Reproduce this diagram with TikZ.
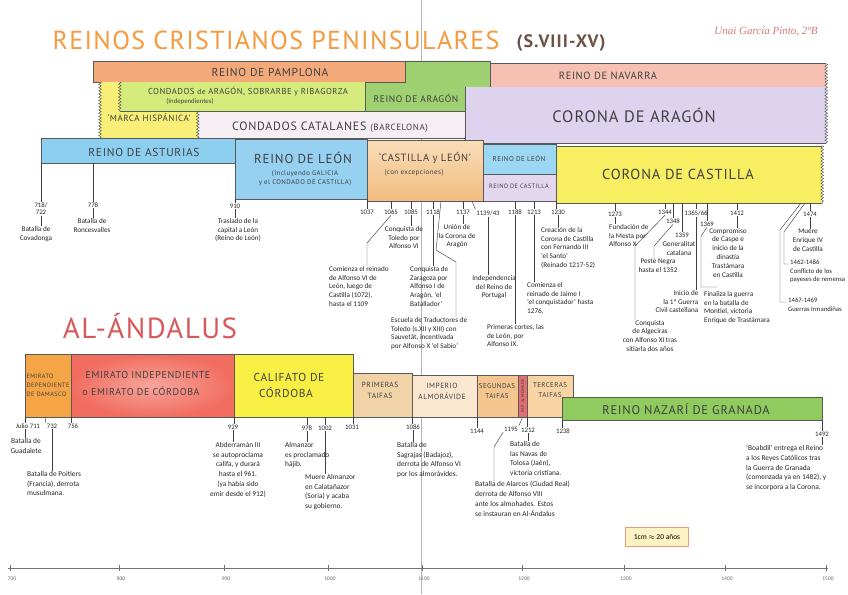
\documentclass[tikz,border=0pt]{standalone}
\usepackage{fontspec}
\setmainfont{Carlito}
\newfontfamily\boxfont[LetterSpace=6]{PT Sans}
\newfontfamily\titlefont[LetterSpace=5]{PT Sans}
\newfontfamily\sigfont{Liberation Serif}
\usetikzlibrary{decorations.pathmorphing}
\definecolor{cTitle}{HTML}{F59A3E}
\definecolor{cSub}{HTML}{6E5246}
\definecolor{cSig}{HTML}{D9787A}
\definecolor{cAnd}{HTML}{D65A5C}
\definecolor{cPamp}{HTML}{F3A97A}
\definecolor{cNav}{HTML}{F6C0B2}
\definecolor{cGreen}{HTML}{9FD071}
\definecolor{cCAr}{HTML}{DDD3EE}
\definecolor{cLime}{HTML}{D5EC7C}
\definecolor{cYel}{HTML}{F9EF78}
\definecolor{cCat}{HTML}{F5EEF3}
\definecolor{cAst}{HTML}{8DCFF0}
\definecolor{cLeon}{HTML}{97D1F1}
\definecolor{cCyL}{HTML}{F6CB97}
\definecolor{cCyLTop}{HTML}{F8DDB8}
\definecolor{cCyLBot}{HTML}{F4BC80}
\definecolor{cLeonB}{HTML}{9CD7F3}
\definecolor{cCastB}{HTML}{E3D7EF}
\definecolor{cCC}{HTML}{F8EE62}
\definecolor{cEDD}{HTML}{F5A545}
\definecolor{cEInd}{HTML}{F16D60}
\definecolor{cEIndL}{HTML}{F8A59A}
\definecolor{cCalif}{HTML}{F8EF45}
\definecolor{cPT}{HTML}{F1D3A8}
\definecolor{cAlmor}{HTML}{FBE6CF}
\definecolor{cST}{HTML}{F4C58E}
\definecolor{cAlmoh}{HTML}{E26E72}
\definecolor{cTT}{HTML}{F8D4A4}
\definecolor{cNaz}{HTML}{8FCB5E}
\definecolor{cScaleF}{HTML}{FCF3C4}
\definecolor{cScaleD}{HTML}{E79B79}
\newcommand\bx[7]{\node[bx, fill=#6, minimum width={(#4-#2)*1pt}, minimum height={(#5-#3)*1pt}, #7] (#1) at ({(#2+#4)/2},{(#3+#5)/2}) {};}
\begin{document}
\begin{tikzpicture}[x=1pt,y=-1pt,
  bx/.style={draw=black!65, line width=0.5pt, inner sep=0pt},
  edge/.style={draw=black!65, line width=0.5pt},
  zz/.style={draw=black!65, line width=0.5pt, decorate, decoration={zigzag, segment length=3.2pt, amplitude=1.3pt}},
  lb/.style={font=\boxfont\fontsize{#1}{#1}\selectfont, text=black!75, inner sep=0pt, align=center},
  yr/.style={font=\fontsize{6.8}{7.2}\selectfont, inner sep=0.8pt, text=black!85, align=center},
  nt/.style={font=\fontsize{7.2}{8.8}\selectfont, inner sep=0pt, text=black!85, align=center, anchor=north},
  ntl/.style={nt, align=left, anchor=north west},
  nb/.style={font=\fontsize{7.4}{9.8}\selectfont, inner sep=0pt, text=black!85, align=center, anchor=north},
  nbl/.style={nb, align=left, anchor=north west},
  ln/.style={draw=black!75, line width=0.45pt},
  axis/.style={draw=black!55, line width=0.6pt},
  axl/.style={font=\fontsize{5.5}{6}\selectfont, text=black!60, inner sep=0pt}]
\useasboundingbox (0,0) rectangle (848,594);
\fill[white] (0,0) rectangle (848,594);
% page fold
\draw[black!30, line width=1pt] (421,0) -- (421,594);

% titles
\node[font=\titlefont\fontsize{26}{26}\selectfont, text=cTitle, inner sep=0pt] (title) at (276,40) {REINOS CRISTIANOS PENINSULARES};
\node[font=\boxfont\bfseries\fontsize{18}{18}\selectfont, text=cSub, inner sep=0pt] (period) at (561,43) {(S.VIII-XV)};
\node[font=\sigfont\itshape\fontsize{11}{11}\selectfont, text=cSig, inner sep=0pt] (author) at (766,32) {Unai García Pinto, 2ºB};

% ---------- Christian kingdoms ----------
\bx{pamp}{93}{61}{405}{82}{cPamp}{}
\filldraw[fill=cGreen, edge] (405,61) -- (490,61) -- (490,87) -- (465,87) -- (465,112) -- (365,112) -- (365,82) -- (405,82) -- cycle;
\bx{nav}{490}{64}{826}{87}{cNav}{draw=none}
\draw[edge] (nav.north east) -- (nav.north west) -- (nav.south west) -- (nav.south east);
\draw[zz] (nav.north east) -- (nav.south east);
\bx{car}{465}{87}{826}{143}{cCAr}{draw=none}
\draw[edge] (car.north west) -- (car.south west) -- (car.south east);
\draw[zz] (car.north east) -- (car.south east);
\fill[cYel] (100,82) -- (120,82) -- (120,111) -- (198,111) -- (198,138) -- (100,138) -- cycle;
\draw[zz] (100,82) -- (100,138);
\bx{condar}{120}{82}{365}{111}{cLime}{draw=none}
\draw[edge] (condar.south west) -- (condar.south east);
\draw[zz] (condar.north west) -- (condar.south west);
\bx{cat}{198}{111}{465}{138}{cCat}{draw=none}
\draw[edge] (cat.north west) -- (cat.north east);
\draw[edge] (cat.south west) -- (cat.south east);
\draw[zz] (cat.north west) -- (cat.south west);
\bx{ast}{41}{138}{235}{163}{cAst}{}
\bx{leon}{235}{139}{367}{199}{cLeon}{}
\bx{cyl}{367}{140}{483}{201}{cCyL}{top color=cCyLTop, bottom color=cCyLBot}
\bx{leonb}{483}{144}{556}{174}{cLeonB}{}
\bx{castb}{483}{174}{556}{201}{cCastB}{}
\bx{ccast}{556}{146}{822}{203}{cCC}{draw=none}
\draw[edge] (ccast.north east) -- (ccast.north west) -- (ccast.south west) -- (ccast.south east);
\draw[zz] (ccast.north east) -- (ccast.south east);

\node[lb=11.5] (tPamp) at (270,72) {REINO DE PAMPLONA};
\node[lb=10.5] (tNav) at (608,76) {REINO DE NAVARRA};
\node[lb=16.5] (tCAr) at (634,115) {CORONA DE ARAGÓN};
\node[lb=8.6] (tCondar) at (248,92) {CONDADOS {\fontsize{7.5}{7.5}\selectfont de} ARAGÓN, SOBRARBE {\fontsize{7.5}{7.5}\selectfont y} RIBAGORZA};
\node[font=\fontsize{6.8}{6.8}\selectfont, inner sep=0pt, text=black!75] (tIndep) at (190,102) {(Independientes)};
\node[lb=9.5] (tRAr) at (416,98) {REINO DE ARAGÓN};
\node[lb=9] (tMarca) at (149,118) {‘MARCA HISPÁNICA’};
\node[lb=12] (tCat) at (330,127) {CONDADOS CATALANES {\fontsize{9}{9}\selectfont (BARCELONA)}};
\node[lb=11.5] (tAst) at (144,152) {REINO DE ASTURIAS};
\node[lb=13] (tLeon) at (303,158) {REINO DE LEÓN};
\node[lb=6.8] (tLeonSub) at (305,178) {(Incluyendo GALICIA\\[2.5pt] y el CONDADO DE CASTILLA)};
\node[lb=10.5] (tCyL) at (425,158) {‘CASTILLA y LEÓN’};
\node[lb=7] (tCyLSub) at (414,173) {(con excepciones)};
\node[lb=7] (tLeonB) at (519,158) {REINO DE LEÓN};
\node[lb=6.3] (tCastB) at (519,186) {REINO DE CASTILLA};
\node[lb=14.5] (tCC) at (678,174) {CORONA DE CASTILLA};

% top timeline years
\node[yr] (y718) at (41,209) {718/\\722};
\node[yr] (y778) at (93,205) {778};
\node[yr] (y910) at (235,206) {910};
\node[yr] (y1037) at (367,212) {1037};
\node[yr] (y1065) at (391,212) {1065};
\node[yr] (y1085) at (411,212) {1085};
\node[yr] (y1118) at (433,212) {1118};
\node[yr] (y1137) at (463,212) {1137};
\node[yr] (y1139) at (488,213) {1139/43};
\node[yr] (y1188) at (515,212) {1188};
\node[yr] (y1213) at (534,212) {1213};
\node[yr] (y1230) at (558,212) {1230};
\node[yr] (y1273) at (615,214) {1273};
\node[yr] (y1344) at (665,212) {1344};
\node[yr] (y1348) at (673,221) {1348};
\node[yr] (y1359) at (682,235) {1359};
\node[yr] (y1365) at (696,213) {1365/66};
\node[yr] (y1369) at (707,224) {1369};
\node[yr] (y1412) at (737,213) {1412};
\node[yr] (y1474) at (810,214) {1474};

% top notes
\node[nt] (n718) at (36,226) {Batalla de\\Covadonga};
\node[nt] (n778) at (92,218) {Batalla de\\Roncesvalles};
\node[nt] (n910) at (238,218) {Traslado de la\\capital a León\\(Reino de León)};
\node[ntl] (n1065) at (329,266) {Comienza el reinado\\de Alfonso VI de\\León, luego de\\Castilla (1072),\\hasta el 1109};
\node[nt] (n1085) at (404,226) {Conquista de\\Toledo por\\Alfonso VI};
\node[ntl] (n1118) at (410,266) {Conquista de\\Zaragoza por\\Alfonso I de\\Aragón, ‘el\\Batallador’};
\node[ntl] (nEsc) at (391,317) {Escuela de Traductores de\\Toledo (s.XII y XIII) con\\Sauvetât, incentivada\\por Alfonso X ‘el Sabio’};
\node[nt] (n1137) at (457,224) {Unión de\\la Corona de\\Aragón};
\node[nt] (n1139) at (494,275) {Independencia\\del Reino de\\Portugal};
\node[ntl] (n1188) at (487,324) {Primeras cortes, las\\de León, por\\Alfonso IX.};
\node[ntl] (n1213) at (527,282) {Comienza el\\reinado de Jaime I\\‘el conquistador’ hasta\\1276.};
\node[ntl] (n1230) at (541,227) {Creación de la\\Corona de Castilla\\con Fernando III\\‘el Santo’\\(Reinado 1217-52)};
\node[ntl] (n1273) at (609,224) {Fundación de\\la Mesta por\\Alfonso X};
\node[nt] (n1344) at (650,320) {Conquista\\de Algeciras\\con Alfonso XI tras\\sitiarla dos años};
\node[nt] (n1348) at (658,259) {Peste Negra\\hasta el 1352};
\node[nt] (n1359) at (679,241) {Generalitat\\catalana};
\node[nt, align=right] (n1365) at (677,290) {Inicio de\\la 1ª Guerra\\Civil castellana};
\node[ntl] (n1369) at (704,291) {Finaliza la guerra\\en la batalla de\\Montiel, victoria\\Enrique de Trastámara};
\node[nt] (n1412) at (728,228) {Compromiso\\de Caspe e\\inicio de la\\dinastía\\Trastámara\\en Castilla};
\node[nt] (n1474) at (808,229) {Muere\\Enrique IV\\de Castilla};
\node[ntl, font=\fontsize{6.7}{8.5}\selectfont] (n1462) at (790,260) {1462-1486\\Conflicto de los\\payeses de remensa};
\node[ntl, font=\fontsize{6.7}{8.5}\selectfont] (n1467) at (788,298) {1467-1469\\Guerras Irmandiñas};

% helper coordinates
\coordinate (k1065) at (367,243);
\coordinate (kE0) at (441,201);
\coordinate (kE1) at (436,250);
\coordinate (kE2) at (456,262);
\coordinate (k1139) at (472,201);
\coordinate (k1344) at (635,246);
\coordinate (k1348) at (654,246);
\coordinate (k1369a) at (701,236);
\coordinate (k1369b) at (701,287);
\coordinate (k1369c) at (717,287);
\coordinate (kR0) at (805,203);
\coordinate (kR1) at (784,232);
\coordinate (kR2) at (784,264);
\coordinate (kR3) at (789,264);
\coordinate (kS0) at (801,203);
\coordinate (kS1) at (780,230);
\coordinate (kS2) at (780,302);
\coordinate (kS3) at (786,302);

% top connectors
\draw[ln] (ast.south west) -- (ast.south west |- y718.north);
\draw[ln] (y718.south) -- (y718.south |- n718.north);
\draw[ln] (y778.north |- ast.south) -- (y778.north);
\draw[ln] (y778.south) -- (y778.south |- n778.north);
\draw[ln] (leon.south west) -- (leon.south west |- y910.north);
\draw[ln] (y910.south) -- (y910.south |- n910.north);
\draw[ln] (leon.south east) -- (leon.south east |- y1037.north);
\draw[ln] (y1065.north |- cyl.south) -- (y1065.north);
\draw[ln] (y1065.south) -- (k1065) -- (k1065 |- n1065.north);
\draw[ln] (y1085.north |- cyl.south) -- (y1085.north);
\draw[ln] (y1085.south) -- (y1085.south |- n1085.north);
\draw[ln] (y1118.north |- cyl.south) -- (y1118.north);
\draw[ln] (y1118.south) -- (y1118.south |- n1118.north);
\draw[ln] (kE0) -- (kE1) -- (kE2) -- (kE2 |- nEsc.north);
\draw[ln] (y1137.north |- cyl.south) -- (y1137.north);
\draw[ln] (y1137.south) -- (y1137.south |- n1137.north);
\draw[ln] (k1139) -- (y1139.north west);
\draw[ln] (y1139.south) -- (y1139.south |- n1139.north);
\draw[ln] (y1188.north |- castb.south) -- (y1188.north);
\draw[ln] (y1188.south) -- (y1188.south |- n1188.north);
\draw[ln] (y1213.north |- castb.south) -- (y1213.north);
\draw[ln] (y1213.south) -- (y1213.south |- n1213.north);
\draw[ln] (castb.south east) -- (castb.south east |- y1230.north);
\draw[ln] (y1230.south) -- (y1230.south |- n1230.north);
\draw[ln] (y1273.north |- ccast.south) -- (y1273.north);
\draw[ln] (y1273.south) -- (y1273.south |- n1273.north);
\draw[ln] (y1344.north |- ccast.south) -- (y1344.north);
\draw[ln] (y1344.south) -- (k1344) -- (k1344 |- n1344.north);
\draw[ln] (y1348.north |- ccast.south) -- (y1348.north);
\draw[ln] (y1348.south) -- (k1348) -- (k1348 |- n1348.north);
\draw[ln] (y1359.north |- ccast.south) -- (y1359.north);
\draw[ln] (y1365.north |- ccast.south) -- (y1365.north);
\draw[ln] (y1365.south) -- (y1365.south |- n1365.north);
\draw[ln] (y1369.north |- ccast.south) -- (y1369.north);
\draw[ln] (y1369.south) -- (k1369a) -- (k1369b) -- (k1369c);
\draw[ln] (y1412.north |- ccast.south) -- (y1412.north);
\draw[ln] (y1412.south) -- (y1412.south |- n1412.north);
\draw[ln] (y1474.north |- ccast.south) -- (y1474.north);
\draw[ln] (y1474.south) -- (y1474.south |- n1474.north);
\draw[ln] (kR0) -- (kR1) -- (kR2) -- (kR3);
\draw[ln] (kS0) -- (kS1) -- (kS2) -- (kS3);

% ---------- Al-Andalus ----------
\node[font=\titlefont\fontsize{29}{29}\selectfont, text=cAnd, inner sep=0pt] (andalus) at (150,326) {AL-ÁNDALUS};
\bx{edd}{25}{354}{71}{417}{cEDD}{}
\bx{eind}{71}{354}{234}{417}{cEInd}{inner color=cEIndL, outer color=cEInd}
\bx{calif}{234}{354}{353}{417}{cCalif}{}
\bx{ptaif}{353}{373}{412}{417}{cPT}{}
\bx{almor}{412}{375}{477}{417}{cAlmor}{}
\bx{staif}{477}{375}{518}{417}{cST}{}
\bx{almoh}{518}{375}{527}{417}{cAlmoh}{}
\bx{ttaif}{527}{375}{573}{417}{cTT}{}
\bx{naz}{562}{397}{822}{420}{cNaz}{}

\node[lb=6.3, align=left] (tEDD) at (48,385) {EMIRATO\\[2.5pt]DEPENDIENTE\\[2.5pt]DE DAMASCO};
\node[lb=10] (tEInd1) at (148,375) {EMIRATO INDEPENDIENTE};
\node[lb=10] (tEInd2) at (141,391) {o EMIRATO DE CÓRDOBA};
\node[lb=11.5] (tCal1) at (289,377) {CALIFATO DE};
\node[lb=11.5] (tCal2) at (286,393) {CÓRDOBA};
\node[lb=7.5] (tPT) at (380,390) {PRIMERAS\\[3.5pt]TAIFAS};
\node[lb=7.5] (tAlmor) at (442,391) {IMPERIO\\[3.5pt]ALMORÁVIDE};
\node[lb=7] (tST) at (497,391) {SEGUNDAS\\[3.5pt]TAIFAS};
\node[lb=4.3, rotate=90] (tAlmoh) at (522.5,396) {IMP. ALMOHADE};
\node[lb=7] (tTT) at (550,390) {TERCERAS\\[3.5pt]TAIFAS};
\node[lb=12.5] (tNaz) at (686,409) {REINO NAZARÍ DE GRANADA};

\node[yr] (y711) at (28,426) {Julio 711};
\node[yr] (y732) at (52,426) {732};
\node[yr] (y756) at (73,426) {756};
\node[yr] (y929) at (233,427) {929};
\node[yr] (y978) at (307,428) {978};
\node[yr] (y1002) at (325,428) {1002};
\node[yr] (y1031) at (352,427) {1031};
\node[yr] (y1086) at (413,427) {1086};
\node[yr] (y1144) at (477,431) {1144};
\node[yr] (y1195) at (511,429) {1195};
\node[yr] (y1212) at (528,430) {1212};
\node[yr] (y1238) at (563,431) {1238};
\node[yr] (y1492) at (822,434) {1492};

\node[nb] (n711) at (26,438) {Batalla de\\Guadalete};
\node[nbl] (n732) at (27,471) {Batalla de Poitiers\\(Francia), derrota\\musulmana.};
\node[nb] (n929) at (238,442) {Abderramán III\\se autoproclama\\califa, y durará\\hasta el 961.\\(ya había sido\\emir desde el 912)};
\node[nbl] (n978) at (285,442) {Almanzor\\es proclamado\\hájib.};
\node[nbl] (n1002) at (305,474) {Muere Almanzor\\en Calatañazor\\(Soria) y acaba\\su gobierno.};
\node[nbl] (n1086) at (397,442) {Batalla de\\Sagrajas (Badajoz),\\derrota de Alfonso VI\\por los almorávides.};
\node[nbl] (n1195) at (475,481) {Batalla de Alarcos (Ciudad Real)\\derrota de Alfonso VIII\\ante los almohades. Estos\\se instauran en Al-Ándalus};
\node[nbl] (n1212) at (510,441) {Batalla de\\las Navas de\\Tolosa (Jaén),\\victoria cristiana.};
\node[nbl] (n1492) at (746,445) {‘Boabdil’ entrega el Reino\\a los Reyes Católicos tras\\la Guerra de Granada\\(comenzada ya en 1482), y\\se incorpora a la Corona.};

\coordinate (k732) at (45,417);
\coordinate (k1195) at (494,447);
\draw[ln] (edd.south west) -- (edd.south west |- y711.north);
\draw[ln] (y711.south -| edd.south west) -- (n711.north -| edd.south west);
\draw[ln] (k732) -- (y732.north west);
\draw[ln] (y732.south) -- (y732.south |- n732.north);
\draw[ln] (eind.south west) -- (eind.south west |- y756.north);
\draw[ln] (calif.south west) -- (calif.south west |- y929.north);
\draw[ln] (y929.south) -- (y929.south |- n929.north);
\draw[ln] (y978.north |- calif.south) -- (y978.north);
\draw[ln] (y978.south) -- (y978.south |- n978.north);
\draw[ln] (y1002.north |- calif.south) -- (y1002.north);
\draw[ln] (y1002.south) -- (y1002.south |- n1002.north);
\draw[ln] (calif.south east) -- (calif.south east |- y1031.north);
\draw[ln] (ptaif.south east) -- (ptaif.south east |- y1086.north);
\draw[ln] (y1086.south) -- (y1086.south |- n1086.north);
\draw[ln] (almor.south east) -- (almor.south east |- y1144.north);
\draw[ln] (almoh.south) -- (y1195.north east);
\draw[ln] (y1195.south west) -- (k1195) -- (k1195 |- n1195.north);
\draw[ln] (almoh.south east) -- (almoh.south east |- y1212.north);
\draw[ln] (y1212.south) -- (y1212.south |- n1212.north);
\draw[ln] (naz.south west) -- (naz.south west |- y1238.north);
\draw[ln] (naz.south east) -- (naz.south east |- y1492.north);
\draw[ln] (y1492.south) -- (y1492.south |- n1492.north);

% scale
\node[draw=cScaleD, fill=cScaleF, line width=0.8pt, minimum width=63pt, minimum height=19pt, inner sep=0pt, font=\fontsize{7.5}{7.5}\selectfont] (scale) at (657,537) {1cm $\approx$ 20 años};

% axis
\coordinate (axL) at (8,568);
\coordinate (axR) at (828,568);
\draw[axis] (axL) -- (axR);
\foreach \yv/\xv in {700/10,800/119,900/224,1000/328,1100/422,1200/522,1300/624,1400/725,1500/826}{
  \draw[axis] (\xv,565) -- (\xv,571);
  \node[axl] (ax\yv) at (\xv+2,579) {\yv};
}
\end{tikzpicture}
\end{document}
